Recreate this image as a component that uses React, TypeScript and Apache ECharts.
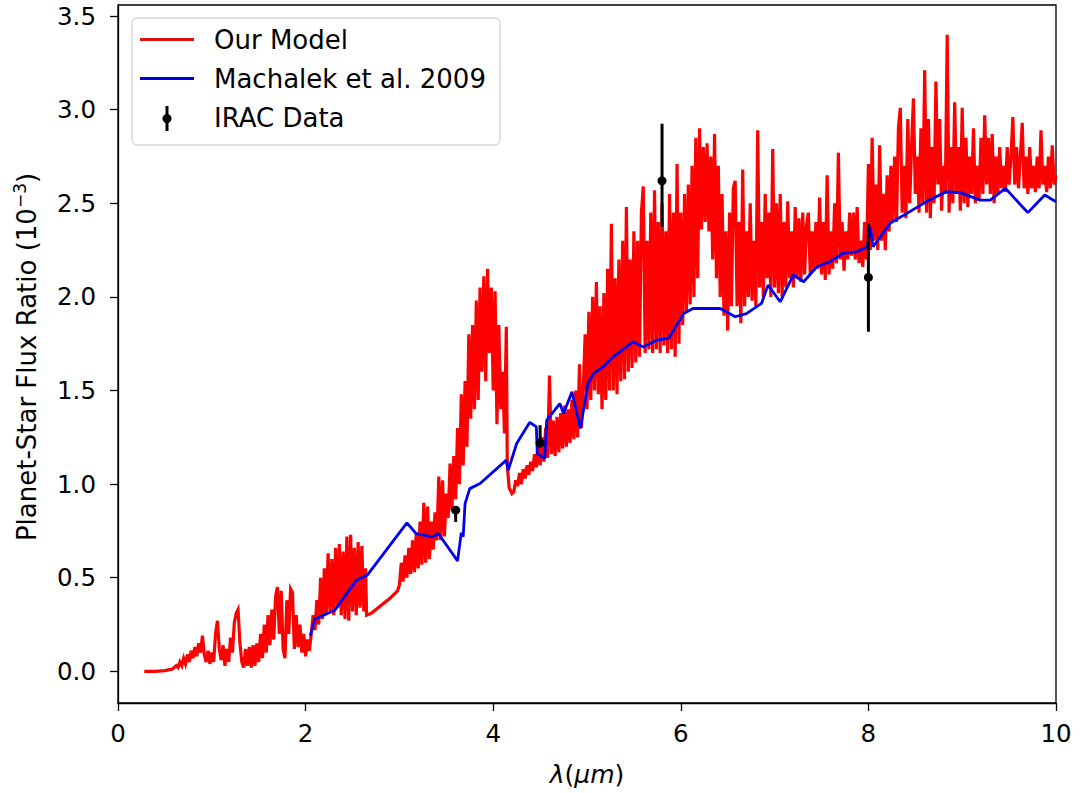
import React, { useEffect, useRef } from "react";
import * as echarts from "echarts";

// ---------- data ----------
const xTicks = [0, 2, 4, 6, 8, 10];
const yTicks = [0, 0.5, 1, 1.5, 2, 2.5, 3, 3.5];
const seriesNames = ["Our Model", "Machalek et al. 2009", "IRAC Data"];

// Our Model spectrum (wavelength in µm, flux ratio in 1e-3)
const modelPoints: [number, number][] = [
  [0.28, 0.0], [0.4, 0.0], [0.5, 0.004], [0.58, 0.012], [0.62, 0.03], [0.64, 0.02], [0.66, 0.05], [0.68, 0.03],
  [0.7, 0.07], [0.72, 0.04], [0.74, 0.09], [0.76, 0.05], [0.78, 0.11], [0.8, 0.07], [0.82, 0.13], [0.84, 0.08],
  [0.86, 0.15], [0.88, 0.1], [0.9, 0.19], [0.92, 0.09], [0.94, 0.05], [0.96, 0.11], [0.98, 0.04], [1.0, 0.1],
  [1.02, 0.05], [1.04, 0.2], [1.06, 0.27], [1.08, 0.12], [1.1, 0.06], [1.12, 0.14], [1.14, 0.03], [1.16, 0.12],
  [1.18, 0.05], [1.2, 0.18], [1.22, 0.1], [1.24, 0.26], [1.26, 0.31], [1.28, 0.33], [1.3, 0.15], [1.32, 0.05],
  [1.34, 0.02], [1.36, 0.12], [1.38, 0.03], [1.4, 0.13], [1.42, 0.02], [1.44, 0.14], [1.46, 0.03], [1.48, 0.15],
  [1.5, 0.05], [1.52, 0.2], [1.54, 0.07], [1.56, 0.25], [1.58, 0.1], [1.6, 0.3], [1.62, 0.14], [1.64, 0.33],
  [1.66, 0.17], [1.68, 0.4], [1.7, 0.45], [1.72, 0.2], [1.74, 0.43], [1.76, 0.12], [1.78, 0.07], [1.8, 0.38],
  [1.82, 0.2], [1.84, 0.44], [1.86, 0.42], [1.88, 0.12], [1.9, 0.3], [1.92, 0.13], [1.94, 0.25], [1.96, 0.1],
  [1.98, 0.2], [2.0, 0.08], [2.02, 0.17], [2.04, 0.11],
  [2.06, 0.2], [2.08, 0.3], [2.1, 0.22], [2.12, 0.38], [2.14, 0.25], [2.16, 0.5], [2.18, 0.28], [2.2, 0.55],
  [2.22, 0.3], [2.24, 0.63], [2.26, 0.32], [2.28, 0.6], [2.3, 0.3], [2.32, 0.66], [2.34, 0.34], [2.36, 0.68],
  [2.38, 0.3], [2.4, 0.64], [2.42, 0.28], [2.44, 0.72], [2.46, 0.27], [2.48, 0.73], [2.5, 0.32], [2.52, 0.66],
  [2.54, 0.3], [2.56, 0.69], [2.58, 0.34], [2.6, 0.67], [2.62, 0.32], [2.64, 0.55], [2.65, 0.3],
  [2.7, 0.31], [2.8, 0.35], [2.9, 0.39], [2.98, 0.43],
  [3.0, 0.46], [3.02, 0.58], [3.04, 0.48], [3.06, 0.62], [3.08, 0.5], [3.1, 0.66], [3.12, 0.52], [3.14, 0.7],
  [3.16, 0.53], [3.18, 0.74], [3.2, 0.55], [3.22, 0.8], [3.24, 0.57], [3.26, 0.9], [3.28, 0.58], [3.3, 0.88],
  [3.32, 0.6], [3.34, 0.8], [3.36, 0.65], [3.38, 0.85], [3.4, 0.7], [3.42, 1.04], [3.44, 0.7], [3.46, 1.02],
  [3.48, 0.72], [3.5, 0.95],
  [3.52, 0.82], [3.54, 1.11], [3.56, 0.86], [3.58, 1.15], [3.6, 0.92], [3.62, 1.3], [3.64, 1.0], [3.66, 1.48],
  [3.68, 1.1], [3.7, 1.55], [3.72, 1.2], [3.74, 1.8], [3.76, 1.35], [3.78, 1.85], [3.8, 1.4], [3.82, 1.98],
  [3.84, 1.45], [3.86, 2.05], [3.88, 1.6], [3.9, 2.11], [3.92, 1.55], [3.94, 2.15], [3.96, 1.7], [3.98, 2.05],
  [4.0, 1.5], [4.02, 2.03], [4.04, 1.32], [4.06, 1.85], [4.08, 1.4], [4.1, 1.6], [4.12, 1.27], [4.14, 1.84],
  [4.15, 1.1], [4.17, 0.98], [4.2, 0.95],
  [4.22, 0.96], [4.24, 1.02], [4.26, 0.99], [4.28, 1.06], [4.3, 1.0], [4.32, 1.08], [4.34, 1.03], [4.36, 1.1],
  [4.38, 1.05], [4.4, 1.12], [4.42, 1.07], [4.44, 1.16], [4.46, 1.09], [4.48, 1.22], [4.5, 1.1], [4.52, 1.25],
  [4.54, 1.12], [4.56, 1.3], [4.58, 1.14], [4.6, 1.58], [4.62, 1.16], [4.64, 1.34], [4.66, 1.15], [4.68, 1.36],
  [4.7, 1.17], [4.72, 1.38], [4.74, 1.19], [4.76, 1.42], [4.78, 1.2], [4.8, 1.4], [4.82, 1.22], [4.84, 1.45],
  [4.86, 1.24], [4.88, 1.5], [4.9, 1.25], [4.92, 1.64], [4.94, 1.3],
  [4.96, 1.5], [4.98, 1.8], [5.0, 1.4], [5.02, 1.92], [5.04, 1.45], [5.06, 2.0], [5.08, 1.5], [5.1, 2.08],
  [5.12, 1.48], [5.14, 1.95], [5.16, 1.4], [5.18, 2.02], [5.2, 1.45], [5.22, 2.15], [5.24, 1.5], [5.26, 2.39],
  [5.28, 1.5], [5.3, 2.1], [5.32, 1.48], [5.34, 2.2], [5.36, 1.55], [5.38, 2.3], [5.4, 1.56], [5.42, 2.48],
  [5.44, 1.6], [5.46, 2.2], [5.48, 1.62], [5.5, 2.35], [5.52, 1.65], [5.54, 2.3], [5.56, 1.68], [5.58, 2.45],
  [5.6, 2.59], [5.62, 1.7], [5.64, 2.3], [5.66, 1.72], [5.68, 2.45], [5.7, 1.7], [5.72, 2.57], [5.74, 1.72],
  [5.76, 2.4], [5.78, 1.7], [5.8, 2.5], [5.82, 1.74], [5.84, 2.35], [5.86, 1.7], [5.88, 2.55], [5.9, 1.72],
  [5.92, 2.45], [5.94, 1.68], [5.96, 2.71], [5.98, 1.75], [6.0, 2.45], [6.02, 1.85], [6.04, 2.55], [6.06, 1.92],
  [6.08, 2.6], [6.1, 1.96], [6.12, 2.7], [6.14, 2.0], [6.16, 2.85], [6.18, 2.1], [6.2, 2.9],
  [6.22, 2.36], [6.24, 2.8], [6.26, 2.4], [6.28, 2.82], [6.3, 2.35], [6.32, 2.75], [6.34, 2.2], [6.36, 2.87],
  [6.38, 2.1], [6.4, 2.7], [6.42, 2.0], [6.44, 2.55], [6.46, 1.9], [6.48, 2.35], [6.5, 1.82], [6.52, 2.45],
  [6.54, 1.95], [6.56, 2.58], [6.58, 2.62], [6.6, 1.95], [6.62, 2.4], [6.64, 1.86], [6.66, 2.68], [6.68, 1.95],
  [6.7, 2.35], [6.72, 2.0], [6.74, 2.5], [6.76, 1.98], [6.78, 2.3], [6.8, 1.95], [6.82, 2.89], [6.84, 2.05],
  [6.86, 2.4], [6.88, 2.0], [6.9, 2.55], [6.92, 2.1], [6.94, 2.45], [6.96, 2.0], [6.98, 2.79], [7.0, 2.05],
  [7.02, 2.5], [7.04, 2.02], [7.06, 2.55], [7.08, 2.0], [7.1, 2.4], [7.12, 2.05], [7.14, 2.51], [7.16, 2.1],
  [7.18, 2.35], [7.2, 2.05], [7.22, 2.48], [7.24, 2.1], [7.26, 2.42], [7.28, 2.08], [7.3, 2.45], [7.32, 2.12],
  [7.34, 2.38], [7.36, 2.45], [7.38, 2.12], [7.4, 2.35], [7.42, 2.14], [7.44, 2.4], [7.46, 2.15], [7.48, 2.53],
  [7.5, 2.12], [7.52, 2.4], [7.54, 2.09], [7.56, 2.65], [7.58, 2.12], [7.6, 2.35], [7.62, 2.15], [7.64, 2.5],
  [7.66, 2.18], [7.68, 2.77], [7.7, 2.2], [7.72, 2.4], [7.74, 2.14], [7.76, 2.35], [7.78, 2.2], [7.8, 2.45],
  [7.82, 2.22], [7.84, 2.45], [7.86, 2.2], [7.88, 2.48], [7.9, 2.18], [7.92, 2.3], [7.94, 2.16], [7.96, 2.4],
  [7.98, 2.2], [8.0, 2.71], [8.02, 2.25], [8.04, 2.85], [8.06, 2.3], [8.08, 2.6], [8.1, 2.25], [8.12, 2.81],
  [8.14, 2.3], [8.16, 2.55], [8.18, 2.25], [8.2, 2.65], [8.22, 2.35], [8.24, 2.7], [8.26, 2.4], [8.28, 2.75],
  [8.3, 2.4], [8.32, 2.9], [8.34, 3.01], [8.36, 2.45], [8.38, 2.7], [8.4, 2.42], [8.42, 2.95], [8.44, 2.5],
  [8.46, 2.8], [8.48, 3.06], [8.5, 2.55], [8.52, 2.75], [8.54, 2.45], [8.56, 2.9], [8.58, 2.5], [8.6, 3.21],
  [8.62, 2.45], [8.64, 2.95], [8.66, 2.42], [8.68, 2.8], [8.7, 2.5], [8.72, 3.15], [8.74, 2.6], [8.76, 2.95],
  [8.78, 2.46], [8.8, 2.7], [8.82, 2.55], [8.84, 3.4], [8.86, 2.45], [8.88, 2.8], [8.9, 2.5], [8.92, 3.04],
  [8.94, 2.55], [8.96, 2.8], [8.98, 2.46], [9.0, 3.01], [9.02, 2.5], [9.04, 2.85], [9.06, 2.48], [9.08, 2.75],
  [9.1, 2.55], [9.12, 2.9], [9.14, 2.5], [9.16, 2.7], [9.18, 2.52], [9.2, 2.85], [9.22, 2.55], [9.24, 2.97],
  [9.26, 2.6], [9.28, 2.85], [9.3, 2.55], [9.32, 2.87], [9.34, 2.5], [9.36, 2.75], [9.38, 2.55], [9.4, 2.8],
  [9.42, 2.58], [9.44, 2.7], [9.46, 2.56], [9.48, 2.8], [9.5, 2.6], [9.52, 2.75], [9.54, 2.96], [9.56, 2.6],
  [9.58, 2.8], [9.6, 2.58], [9.62, 2.75], [9.64, 2.93], [9.66, 2.58], [9.68, 2.75], [9.7, 2.55], [9.72, 2.8],
  [9.74, 2.58], [9.76, 2.7], [9.78, 2.56], [9.8, 2.75], [9.82, 2.58], [9.84, 2.89], [9.86, 2.6], [9.88, 2.7],
  [9.9, 2.56], [9.92, 2.75], [9.94, 2.58], [9.96, 2.81], [9.98, 2.6], [10.0, 2.65],
];

// Machalek et al. 2009 model
const machalekPoints: [number, number][] = [
  [2.05, 0.19], [2.1, 0.28], [2.31, 0.326], [2.54, 0.486], [2.66, 0.515], [3.08, 0.793], [3.18, 0.735],
  [3.35, 0.718], [3.415, 0.736], [3.62, 0.59], [3.66, 0.74], [3.68, 0.72], [3.7, 0.896], [3.75, 0.976],
  [3.86, 1.003], [4.14, 1.128], [4.16, 1.074], [4.25, 1.217], [4.39, 1.33], [4.46, 1.306], [4.47, 1.163],
  [4.55, 1.137], [4.57, 1.34], [4.71, 1.43], [4.75, 1.377], [4.84, 1.493], [4.93, 1.297], [5.01, 1.538],
  [5.07, 1.591], [5.17, 1.626], [5.28, 1.68], [5.49, 1.76], [5.6, 1.733], [5.74, 1.769], [5.87, 1.778],
  [6.03, 1.911], [6.13, 1.938], [6.42, 1.938], [6.58, 1.894], [6.7, 1.911], [6.86, 1.965], [6.93, 2.063],
  [7.06, 1.974], [7.2, 2.117], [7.31, 2.081], [7.45, 2.161], [7.59, 2.188], [7.73, 2.233], [7.87, 2.24],
  [7.99, 2.268], [8.02, 2.375], [8.05, 2.268], [8.23, 2.393], [8.41, 2.446], [8.62, 2.509], [8.83, 2.562],
  [8.98, 2.557], [9.19, 2.517], [9.3, 2.517], [9.46, 2.58], [9.7, 2.45], [9.88, 2.544], [10.0, 2.508],
];

// IRAC photometry
const iracWavelength = [3.6, 4.5, 5.8, 8.0];
const iracFlux = [0.861, 1.22, 2.62, 2.104];
const iracErrLow = [0.063, 0.023, 0.245, 0.29];
const iracErrHigh = [0.017, 0.095, 0.305, 0.29];

const FONT = "DejaVu Sans";

export default function App() {
  const ref = useRef<HTMLDivElement>(null);

  useEffect(() => {
    if (!ref.current) return;
    const chart = echarts.init(ref.current, null, { renderer: "svg" });

    const iracData = iracWavelength.map((w, i) => [
      w,
      iracFlux[i],
      iracFlux[i] - iracErrLow[i],
      iracFlux[i] + iracErrHigh[i],
    ]);

    const option: any = {
      animation: false,
      backgroundColor: "#fff",
      grid: {
        left: 118,
        right: 31,
        top: 5,
        bottom: 90,
        show: true,
        borderColor: "#000",
        borderWidth: 1.3,
        backgroundColor: "transparent",
      },
      xAxis: {
        type: "value",
        min: xTicks[0],
        max: xTicks[xTicks.length - 1],
        interval: 2,
        axisLine: { onZero: false, lineStyle: { color: "#000", width: 1.3 } },
        axisTick: { show: true, length: 8, lineStyle: { color: "#000", width: 1.3 } },
        axisLabel: {
          color: "#000",
          fontFamily: FONT,
          fontSize: 24.5,
          margin: 18,
        },
        splitLine: { show: false },
      },
      yAxis: {
        type: "value",
        min: -0.169,
        max: 3.559,
        axisLine: { show: true, onZero: false, lineStyle: { color: "#000", width: 1.3 } },
        axisTick: {
          show: true,
          length: 8,
          customValues: yTicks,
          lineStyle: { color: "#000", width: 1.3 },
        },
        axisLabel: {
          color: "#000",
          fontFamily: FONT,
          fontSize: 24.5,
          margin: 22,
          customValues: yTicks,
          formatter: (v: number) => v.toFixed(1),
        },
        splitLine: { show: false },
      },
      series: [
        {
          name: seriesNames[0],
          type: "line",
          data: modelPoints,
          showSymbol: false,
          symbol: "none",
          lineStyle: { color: "#ff0000", width: 3.2, join: "miter" },
          z: 2,
        },
        {
          name: seriesNames[1],
          type: "line",
          data: machalekPoints,
          showSymbol: false,
          symbol: "none",
          lineStyle: { color: "#0000ee", width: 2.8 },
          z: 3,
        },
        {
          name: seriesNames[2],
          type: "custom",
          data: iracData,
          encode: { x: 0, y: [1, 2, 3] },
          z: 5,
          renderItem: (params: any, api: any) => {
            const c = api.coord([api.value(0), api.value(1)]);
            const lo = api.coord([api.value(0), api.value(2)]);
            const hi = api.coord([api.value(0), api.value(3)]);
            return {
              type: "group",
              children: [
                {
                  type: "line",
                  shape: { x1: lo[0], y1: lo[1], x2: hi[0], y2: hi[1] },
                  style: { stroke: "#000", lineWidth: 3 },
                },
                {
                  type: "circle",
                  shape: { cx: c[0], cy: c[1], r: 4.5 },
                  style: { fill: "#000" },
                },
              ],
            };
          },
        },
      ],
      graphic: [
        // y-axis title
        {
          type: "text",
          x: 27,
          y: 357,
          rotation: Math.PI / 2,
          style: {
            text: "Planet-Star Flux Ratio (10{sup|−3})",
            fontFamily: FONT,
            fontSize: 26,
            fill: "#000",
            align: "center",
            verticalAlign: "middle",
            lineHeight: 32,
            rich: {
              sup: { fontFamily: FONT, fontSize: 17, lineHeight: 17, verticalAlign: "top", fill: "#000" },
            },
          },
        },
        // x-axis title
        {
          type: "text",
          x: 587,
          y: 774,
          style: {
            text: "{it|λ}({it|μm})",
            fontFamily: FONT,
            fontSize: 25,
            fill: "#000",
            align: "center",
            verticalAlign: "middle",
            rich: {
              it: { fontFamily: FONT, fontSize: 25, fontStyle: "italic", fill: "#000" },
            },
          },
        },
        // legend
        {
          type: "group",
          z: 100,
          children: [
            {
              type: "rect",
              shape: { x: 132, y: 18, width: 368, height: 127, r: 5 },
              style: { fill: "rgba(255,255,255,0.85)", stroke: "#d5d5d5", lineWidth: 1.3 },
            },
            {
              type: "line",
              shape: { x1: 140, y1: 39.5, x2: 194, y2: 39.5 },
              style: { stroke: "#dd1111", lineWidth: 2.8 },
            },
            {
              type: "text",
              x: 214,
              y: 40,
              style: { text: seriesNames[0], fontFamily: FONT, fontSize: 26, fill: "#000", verticalAlign: "middle" },
            },
            {
              type: "line",
              shape: { x1: 140, y1: 78.5, x2: 194, y2: 78.5 },
              style: { stroke: "#0000dd", lineWidth: 2.8 },
            },
            {
              type: "text",
              x: 214,
              y: 79,
              style: { text: seriesNames[1], fontFamily: FONT, fontSize: 26, fill: "#000", verticalAlign: "middle" },
            },
            {
              type: "line",
              shape: { x1: 167, y1: 106, x2: 167, y2: 131 },
              style: { stroke: "#000", lineWidth: 3 },
            },
            {
              type: "circle",
              shape: { cx: 167, cy: 118.5, r: 4.5 },
              style: { fill: "#000" },
            },
            {
              type: "text",
              x: 214,
              y: 118,
              style: { text: seriesNames[2], fontFamily: FONT, fontSize: 26, fill: "#000", verticalAlign: "middle" },
            },
          ],
        },
      ],
    };

    chart.setOption(option);
    return () => {
      chart.dispose();
    };
  }, []);

  return (
    <div
      ref={ref}
      style={{ position: "fixed", left: 0, top: 0, width: 1087, height: 793, background: "#fff" }}
    />
  );
}
